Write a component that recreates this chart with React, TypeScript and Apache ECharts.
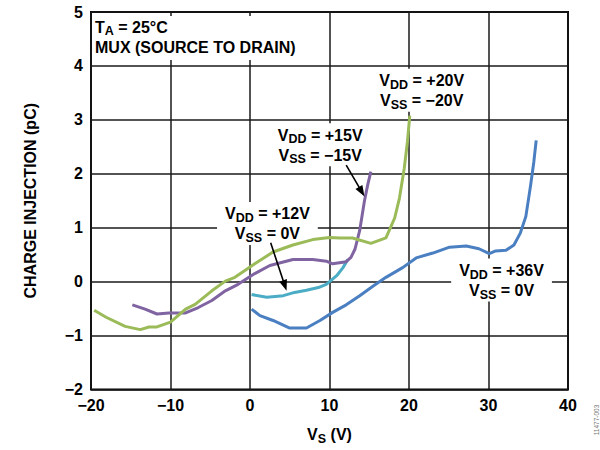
import React, { useEffect, useRef } from "react";
import * as echarts from "echarts";

// Source voltage (V) and charge injection (pC) for each supply configuration
const vdd20Vs = [-19.6, -18.1, -15.7, -13.8, -12.7, -11.7, -10, -8.1, -6.9, -4.8, -3.1, -1.9, -0.6, 0.6, 2.9, 5.4, 7.9, 10, 11.3, 12.9, 15.2, 17.1, 18.2, 18.8, 19.4, 19.8, 20.1];
const vdd20Q = [-0.53, -0.66, -0.83, -0.89, -0.84, -0.84, -0.75, -0.51, -0.42, -0.17, 0.01, 0.08, 0.21, 0.33, 0.55, 0.68, 0.78, 0.82, 0.81, 0.81, 0.71, 0.81, 1.18, 1.55, 2.1, 2.59, 3.08];

const vdd15Vs = [-14.8, -13.2, -11.7, -10.2, -8.1, -6.5, -4.8, -3.1, -1.5, 0.6, 2.5, 5.4, 7.9, 9.6, 10.4, 12.1, 12.7, 13.2, 13.8, 14.4, 14.8, 15.2];
const vdd15Q = [-0.43, -0.51, -0.6, -0.58, -0.58, -0.48, -0.35, -0.17, -0.05, 0.15, 0.3, 0.41, 0.41, 0.38, 0.33, 0.37, 0.45, 0.6, 0.95, 1.5, 1.79, 2.04];

const vdd12Vs = [0.2, 2.1, 4.2, 5.6, 7.1, 8.6, 9.6, 10.9, 11.7, 12.3];
const vdd12Q = [-0.24, -0.29, -0.26, -0.2, -0.16, -0.11, -0.05, 0.11, 0.26, 0.41];

const vdd36Vs = [0.2, 1.25, 2.9, 5, 7.1, 8.8, 10.4, 12.1, 13.8, 15.5, 17.1, 19.2, 20.9, 23, 25.1, 27.2, 28.8, 30.1, 30.9, 32.2, 33.2, 34, 34.7, 35.3, 35.7, 36];
const vdd36Q = [-0.51, -0.63, -0.72, -0.86, -0.86, -0.72, -0.57, -0.43, -0.26, -0.08, 0.08, 0.26, 0.44, 0.53, 0.64, 0.66, 0.61, 0.52, 0.57, 0.58, 0.68, 0.9, 1.21, 1.79, 2.22, 2.62];

const xRange = [-20, 40];
const xStep = 10;
const yRange = [-2, 5];
const yStep = 1;

const FONT = "'Liberation Sans', Arial, Helvetica, sans-serif";
const FS = 16;

const rich = {
  b: { fontFamily: FONT, fontWeight: "bold", fontSize: FS, color: "#000", lineHeight: 20 },
  s: { fontFamily: FONT, fontWeight: "bold", fontSize: 12.5, color: "#000", lineHeight: 20, padding: [8, 0, 0, 0] },
};

// Callouts anchored in data space: centre of the text block
const callouts = [
  { text: "{b|V}{s|DD}{b| = +20V}\n{b|V}{s|SS}{b| = \u221220V}", at: [21.6, 3.55] },
  { text: "{b|V}{s|DD}{b| = +15V}\n{b|V}{s|SS}{b| = \u221215V}", at: [8.83, 2.54] },
  { text: "{b|V}{s|DD}{b| = +12V}\n{b|V}{s|SS}{b| = 0V}", at: [2.19, 1.08] },
  { text: "{b|V}{s|DD}{b| = +36V}\n{b|V}{s|SS}{b| = 0V}", at: [31.64, 0.03] },
];

// Arrows from a callout to its curve (data space)
const arrows = [
  { from: [12.1, 2.16], to: [14.4, 1.58] },
  { from: [2.6, 0.72], to: [4.6, -0.17] },
];

const pairs = (xs: number[], ys: number[]) => xs.map((x, i) => [x, ys[i]]);
const minus = (v: number) => String(v).replace("-", "\u2212");

export default function App() {
  const ref = useRef<HTMLDivElement>(null);

  useEffect(() => {
    if (!ref.current) return;
    const chart = echarts.init(ref.current, null, { renderer: "svg" });
    const lineSeries = (name: string, xs: number[], ys: number[], color: string) => ({
      name,
      type: "line",
      data: pairs(xs, ys),
      showSymbol: false,
      smooth: false,
      lineStyle: { color, width: 3 },
      z: 5,
    });

    chart.setOption({
      animation: false,
      backgroundColor: "#fff",
      grid: { left: 91, right: 32, top: 12, bottom: 56, show: true, borderColor: "#000", borderWidth: 2, backgroundColor: "transparent" },
      xAxis: {
        type: "value",
        min: xRange[0],
        max: xRange[1],
        interval: xStep,
        axisLine: { show: false },
        axisTick: { show: false },
        splitLine: { show: true, lineStyle: { color: "#1a1a1a", width: 1.5 } },
        axisLabel: { formatter: minus, fontFamily: FONT, fontWeight: "bold", fontSize: FS, color: "#000", margin: 8 },
        name: "{b|V}{s|S}{b| (V)}",
        nameLocation: "middle",
        nameGap: 35,
        nameTextStyle: { rich },
      },
      yAxis: {
        type: "value",
        min: yRange[0],
        max: yRange[1],
        interval: yStep,
        axisLine: { show: false },
        axisTick: { show: false },
        splitLine: { show: true, lineStyle: { color: "#1a1a1a", width: 1.5 } },
        axisLabel: { formatter: minus, fontFamily: FONT, fontWeight: "bold", fontSize: FS, color: "#000", margin: 8 },
        name: "CHARGE INJECTION (pC)",
        nameLocation: "middle",
        nameGap: 53,
        nameTextStyle: { fontFamily: FONT, fontWeight: "bold", fontSize: FS, color: "#000" },
      },
      series: [
        lineSeries("VDD=+36V VSS=0V", vdd36Vs, vdd36Q, "#4a7fc1"),
        lineSeries("VDD=+12V VSS=0V", vdd12Vs, vdd12Q, "#4bacc6"),
        lineSeries("VDD=+15V VSS=-15V", vdd15Vs, vdd15Q, "#8064a2"),
        lineSeries("VDD=+20V VSS=-20V", vdd20Vs, vdd20Q, "#9bbb59"),
      ],
    });

    const px = (p: number[]) => chart.convertToPixel({ gridIndex: 0 }, p) as number[];

    const graphic: any[] = [];
    // Condition box in the upper-left corner
    const corner = px([-20, 5]);
    graphic.push({
      type: "text",
      x: corner[0] + 4,
      y: corner[1] + 4,
      z: 2,
      style: {
        text: "{b|T}{s|A}{b| = 25°C}\n{b|MUX (SOURCE TO DRAIN)}",
        rich,
        align: "left",
        verticalAlign: "top",
        backgroundColor: "#fff",
        padding: [1, 10, 3, 0],
      },
    });
    callouts.forEach((c) => {
      const p = px(c.at);
      graphic.push({
        type: "text",
        x: p[0],
        y: p[1],
        z: 2,
        style: {
          text: c.text,
          rich,
          align: "center",
          verticalAlign: "middle",
          backgroundColor: "#fff",
          padding: [2, 8, 1, 8],
        },
      });
    });
    arrows.forEach((a) => {
      const p0 = px(a.from);
      const p1 = px(a.to);
      const dx = p1[0] - p0[0];
      const dy = p1[1] - p0[1];
      const len = Math.hypot(dx, dy);
      const ux = dx / len;
      const uy = dy / len;
      const hl = 11;
      const hw = 4;
      const bx = p1[0] - ux * hl;
      const by = p1[1] - uy * hl;
      graphic.push({
        type: "line",
        z: 51,
        shape: { x1: p0[0], y1: p0[1], x2: bx + ux * 2, y2: by + uy * 2 },
        style: { stroke: "#000", lineWidth: 1.6 },
      });
      graphic.push({
        type: "polygon",
        z: 51,
        shape: { points: [[p1[0], p1[1]], [bx - uy * hw, by + ux * hw], [bx + uy * hw, by - ux * hw]] },
        style: { fill: "#000" },
      });
    });
    graphic.push({
      type: "text",
      x: 596,
      y: 420,
      rotation: Math.PI / 2,
      z: 50,
      style: { text: "11477-003", fontFamily: FONT, fontSize: 6.5, fill: "#777", align: "center", verticalAlign: "middle" },
    });
    chart.setOption({ graphic });

    return () => chart.dispose();
  }, []);

  return <div ref={ref} style={{ position: "fixed", left: 0, top: 0, width: 600, height: 450 }} />;
}
